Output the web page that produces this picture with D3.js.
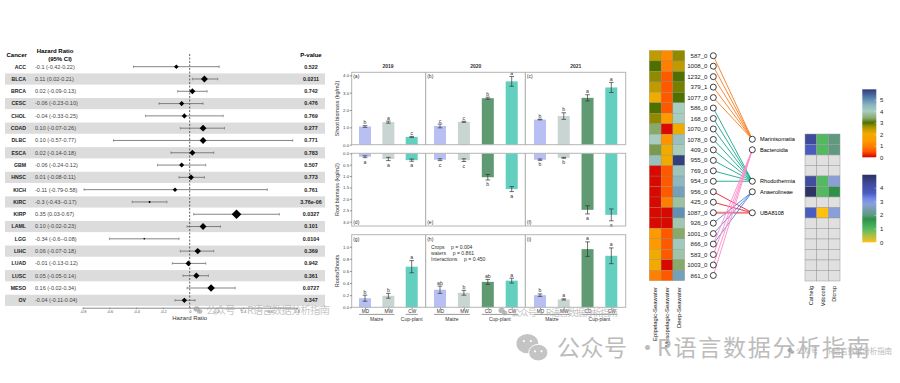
<!DOCTYPE html>
<html>
<head>
<meta charset="utf-8">
<script src="https://cdn.jsdelivr.net/npm/d3@7"></script>
<style>
body { margin: 0; background: #fff; }
svg { display: block; font-family: "Liberation Sans", Arial, sans-serif; }
</style>
</head>
<body>
<div id="chart"></div>
<script>
// forest plot data
var cancers = ['ACC','BLCA','BRCA','CESC','CHOL','COAD','DLBC','ESCA','GBM','HNSC','KICH','KIRC','KIRP','LAML','LGG','LIHC','LUAD','LUSC','MESO','OV'];
var hr = [-0.1,0.11,0.02,-0.06,-0.04,0.10,0.10,0.02,-0.06,0.01,-0.11,-0.3,0.35,0.10,-0.34,0.06,-0.01,0.05,0.16,-0.04];
var hrLow = [-0.42,0.02,-0.09,-0.23,-0.33,-0.07,-0.57,-0.14,-0.24,-0.08,-0.79,-0.43,0.03,-0.02,-0.6,-0.07,-0.13,-0.05,-0.02,-0.11];
var hrHigh = [0.22,0.21,0.13,0.10,0.25,0.26,0.77,0.18,0.12,0.11,0.58,-0.17,0.67,0.23,-0.08,0.18,0.12,0.14,0.34,0.04];
var hrText = ['-0.1 (-0.42-0.22)','0.11 (0.02-0.21)','0.02 (-0.09-0.13)','-0.06 (-0.23-0.10)','-0.04 (-0.33-0.25)','0.10 (-0.07-0.26)','0.10 (-0.57-0.77)','0.02 (-0.14-0.18)','-0.06 (-0.24-0.12)','0.01 (-0.08-0.11)','-0.11 (-0.79-0.58)','-0.3 (-0.43--0.17)','0.35 (0.03-0.67)','0.10 (-0.02-0.23)','-0.34 (-0.6--0.08)','0.06 (-0.07-0.18)','-0.01 (-0.13-0.12)','0.05 (-0.05-0.14)','0.16 (-0.02-0.34)','-0.04 (-0.11-0.04)'];
var pvals = ['0.522','0.0211','0.742','0.476','0.769','0.277','0.771','0.783','0.507','0.773','0.761','3.76e-06','0.0327','0.101','0.0104','0.369','0.942','0.361','0.0727','0.347'];
var hrTicks = [-0.8,-0.6,-0.4,-0.2,0,0.2,0.4,0.6,0.8];

// bar panels, one entry per year
var years = ['2019','2020','2021'];
var treatments = [['MD','MW','CW'],['MD','MW','CD','CW'],['MD','MW','CD','CW']];
var shootVals = [[1.05,1.30,0.45],[1.08,1.32,2.68,3.65],[1.45,1.65,2.70,3.30]];
var shootErr = [[0.05,0.06,0.03],[0.11,0.03,0.06,0.28],[0.02,0.19,0.18,0.29]];
var shootSig = [['b','a','c'],['c','c','b','a'],['b','b','a','a']];
var rootVals = [[0.15,0.25,0.30],[0.28,0.30,1.05,1.57],[0.28,0.20,2.48,2.70]];
var rootErr = [[0.04,0.07,0.05],[0.04,0.06,0.12,0.11],[0.03,0.02,0.18,0.26]];
var rootSig = [['a','a','a'],['c','c','b','a'],['b','b','a','a']];
var ratioVals = [[0.15,0.19,0.67],[0.29,0.24,0.42,0.44],[0.20,0.13,0.96,0.85]];
var ratioErr = [[0.05,0.04,0.10],[0.06,0.04,0.04,0.04],[0.02,0.01,0.12,0.13]];
var ratioSig = [['b','b','a'],['ab','b','ab','a'],['b','a','a','a']];
var panelTags = [['(a)','(b)','(c)'],['(d)','(e)','(f)'],['(g)','(h)','(i)']];
var stats = [['Crops','p = 0.004'],['waters','p = 0.861'],['Interactions','p = 0.450']];

// left heatmap + network
var asvs = ['587_0','1008_0','1232_0','379_1','1077_0','586_0','168_0','1070_0','1078_0','409_0','955_0','769_0','954_0','956_0','425_0','1087_0','926_0','1001_0','866_0','583_0','1003_0','861_0'];
var waterCols = ['Epipelagic-Seawater','Mesopelagic-Seawater','Deep-Seawater'];
var asvHeat = [
  [2.45,1.15,2.75],[3.0,1.0,2.45],[2.75,0.55,3.0],[2.45,0.55,2.85],[2.05,0.55,3.0],
  [3.0,0.55,4.0],[2.75,1.4,4.0],[3.4,0.05,2.05],[4.0,1.3,4.3],[3.3,2.05,4.0],
  [4.3,2.05,5.85],[0.05,0.55,4.2],[0.05,0.55,4.5],[0.05,0.55,4.8],[0.05,1.0,3.8],
  [0.05,0.05,5.0],[0.05,0.05,3.9],[1.4,0.55,3.4],[1.4,0.55,4.1],[2.05,0.55,3.85],
  [2.05,0.05,3.4],[1.0,0.55,4.8]
];
var taxa = ['Marinisomatia','Bacteroidia','','','Rhodothermia','Anaerolineae','','UBA8108','','','','','',''];
// index into taxa for each asv
var asvTaxon = [0,0,0,0,0,4,4,4,4,4,4,4,4,7,7,7,5,5,5,1,1,1];
var extraLinks = [[18,1]];
var taxonColors = {0:'#f9791c',1:'#ff8ac6',4:'#16a68c',5:'#5482de',7:'#f01c2c'};

// right heatmap, null = no value
var hostCols = ['Cathelg','Vdocotti','Dlcrsp'];
var hostHeat = [
  [4.3,1.0,2.0],[3.6,1.0,2.0],[null,null,null],[null,null,null],[4.2,1.0,2.8],[4.9,1.0,1.7],[null,null,null],
  [3.6,0,2.8],[null,null,null],[null,null,null],[null,null,null],[null,null,null],[null,null,null],[null,null,null]
];

// colour ramps of the two legends
var ramp1Stops = [0,0.5,1,1.4,2.05,2.45,2.75,3.0,3.4,4.0,4.5,5.0,5.9];
var ramp1Colors = ['#d40000','#ff5500','#ff8000','#ff9900','#f0aa00','#bf9a00','#8f8a00','#4d7000','#88a96b','#a6cdbf','#8fb7bf','#6090b8','#2f3a7a'];
var ramp2Stops = [0,0.5,1,1.7,2,2.8,3.2,3.6,4.3,4.9];
var ramp2Colors = ['#ffc010','#a5c04a','#52b960','#2e9148','#5f9a80','#8a9fd8','#6f88e8','#4a5cc0','#3f4a9a','#2d3364'];

var barColors = {MD:'#b7bff3',MW:'#c8d5d3',CD:'#5f9a73',CW:'#63cfbe'};
var groupOf = {MD:'Maize',MW:'Maize',CD:'Cup-plant',CW:'Cup-plant'};

var svg = d3.select('#chart').append('svg')
  .attr('width', 900)
  .attr('height', 383);

generate_forest();
generate_bars();
generate_network();
generate_watermarks();

function generate_forest(){
  var g = svg.append('g');
  var x = d3.scaleLinear().domain([-0.8,0.8]).range([82.7,296.7]);
  var y = d3.scalePoint().domain(cancers).range([66.7,300.3]);
  var size = d3.scaleLinear().domain([-0.34,0.35]).range([1,4.8]);

  g.selectAll('.band')
    .data(cancers.filter((d,i)=> i % 2 == 1))
    .join('rect')
    .attr('x', 5)
    .attr('width', 320)
    .attr('y', d=> y(d)-5.6)
    .attr('height', 11.2)
    .style('fill', '#dcdcdc');

  var head = [['Cancer',16.7,57],['Hazard Ratio',55,52.7],['(95% CI)',60,61],['P-value',311,57]];
  g.selectAll('.head')
    .data(head)
    .join('text')
    .attr('x', d=>d[1])
    .attr('y', d=>d[2])
    .attr('text-anchor','middle')
    .style('font-size','6px')
    .style('font-weight','bold')
    .text(d=>d[0]);

  g.selectAll('.name')
    .data(cancers)
    .join('text')
    .attr('x', (d)=> 26)
    .attr('y', d=> y(d)+1.9)
    .attr('text-anchor','end')
    .style('font-size','5.2px')
    .style('font-weight','bold')
    .style('fill','#222')
    .text(d=>d);

  g.selectAll('.hrtext')
    .data(hrText)
    .join('text')
    .attr('x', 35)
    .attr('y', (d,i)=> y(cancers[i])+1.9)
    .style('font-size','5.5px')
    .style('fill','#444')
    .text(d=>d);

  g.selectAll('.pval')
    .data(pvals)
    .join('text')
    .attr('x', 311)
    .attr('y', (d,i)=> y(cancers[i])+1.9)
    .attr('text-anchor','middle')
    .style('font-size','5.4px')
    .style('font-weight','bold')
    .style('fill','#222')
    .text(d=>d);

  // axis first, the dashed zero line goes on top
  var axis = g.append('g')
    .attr('transform','translate(0,307.7)')
    .call(d3.axisBottom(x).tickValues(hrTicks).tickSize(1.5).tickPadding(1).tickFormat(d=> d==0 ? '0' : d));
  axis.select('.domain').style('stroke','#888');
  axis.selectAll('line').style('stroke','#888');
  axis.selectAll('text').style('font-size','3.8px').style('fill','#555').style('font-family','inherit');

  g.append('line')
    .attr('x1', x(0)).attr('x2', x(0))
    .attr('y1', 54).attr('y2', 307.7)
    .style('stroke','#222')
    .style('stroke-width',0.7)
    .style('stroke-dasharray','2,1.5');

  g.append('text')
    .attr('x', x(0))
    .attr('y', 320)
    .attr('text-anchor','middle')
    .style('font-size','6px')
    .style('fill','#333')
    .text('Hazard Ratio');

  cancers.forEach(function(c,i){
    var cy = y(c);
    g.append('line')
      .attr('x1', x(hrLow[i])).attr('x2', x(hrHigh[i]))
      .attr('y1', cy).attr('y2', cy)
      .style('stroke','#666').style('stroke-width',0.8);
    [hrLow[i],hrHigh[i]].forEach(function(v){
      g.append('line')
        .attr('x1', x(v)).attr('x2', x(v))
        .attr('y1', cy-1.3).attr('y2', cy+1.3)
        .style('stroke','#666').style('stroke-width',0.6);
    });
    var r = size(hr[i]);
    g.append('path')
      .attr('d', d3.line()([[x(hr[i])-r,cy],[x(hr[i]),cy-r],[x(hr[i])+r,cy],[x(hr[i]),cy+r]])+'Z')
      .style('fill','#000');
  });
}

function generate_bars(){
  var g = svg.append('g');
  var panelX = [351.7,425.7,525.3,625.7];
  var rows = [
    {vals:shootVals, err:shootErr, sig:shootSig, top:72.3, bottom:144.7, y:d3.scaleLinear().domain([0,4]).range([144.7,75.3]), ticks:[0,1,2,3,4], down:false, title:'Shoot biomass (kg/m2)', fmt:'.1f'},
    {vals:rootVals, err:rootErr, sig:rootSig, top:153.3, bottom:226, y:d3.scaleLinear().domain([0,3]).range([153.3,221.7]), ticks:[0,0.5,1,1.5,2,2.5,3], down:true, title:'Root biomass (kg/m2)', fmt:'.1f'},
    {vals:ratioVals, err:ratioErr, sig:ratioSig, top:234.7, bottom:307.3, y:d3.scaleLinear().domain([0,1]).range([307.3,246.7]), ticks:[0,0.2,0.4,0.6,0.8,1], down:false, title:'Roots/Shoots', fmt:'.1f'}
  ];

  years.forEach(function(year,i){
    g.append('text')
      .attr('x', i==0 ? 388 : (i==1 ? 475.7 : 575.7))
      .attr('y', 67.5)
      .attr('text-anchor','middle')
      .style('font-size','5px')
      .style('font-weight','bold')
      .style('fill','#333')
      .text(year);
  });

  rows.forEach(function(row,r){
    var y = row.y;
    years.forEach(function(year,p){
      var x = d3.scalePoint()
        .domain(treatments[p])
        .range(p==0 ? [365,411.7] : (p==1 ? [440,511.7] : [540,611.3]));
      var w = 12;

      treatments[p].forEach(function(t,i){
        var v = row.vals[p][i], e = row.err[p][i], cx = x(t);
        var y0 = y(0), y1 = y(v);
        g.append('rect')
          .attr('x', cx-w/2)
          .attr('width', w)
          .attr('y', Math.min(y0,y1))
          .attr('height', Math.abs(y1-y0))
          .style('fill', barColors[t]);
        // error bar
        g.append('line')
          .attr('x1',cx).attr('x2',cx)
          .attr('y1',y(v-e)).attr('y2',y(v+e))
          .style('stroke','#333').style('stroke-width',0.7);
        [v-e,v+e].forEach(function(c){
          g.append('line')
            .attr('x1',cx-2.3).attr('x2',cx+2.3)
            .attr('y1',y(c)).attr('y2',y(c))
            .style('stroke','#333').style('stroke-width',0.7);
        });
        g.append('text')
          .attr('x',cx)
          .attr('y', row.down ? y(v+e)+6 : y(v+e)-1.5)
          .attr('text-anchor','middle')
          .style('font-size','5.2px')
          .style('fill','#333')
          .text(row.sig[p][i]);
      });

      g.append('text')
        .attr('x', panelX[p]+1.5)
        .attr('y', r==1 ? 224 : row.top+6)
        .style('font-size','5px')
        .style('fill','#333')
        .text(panelTags[r][p]);

      // treatment labels and group lines only under the last row
      if (r==2){
        var ax = g.append('g')
          .attr('transform','translate(0,'+row.bottom+')')
          .call(d3.axisBottom(x).tickSize(1.5).tickPadding(1));
        ax.select('.domain').remove();
        ax.selectAll('line').style('stroke','#777');
        ax.selectAll('text').style('font-size','4.8px').style('fill','#333').style('font-family','inherit');
        ['Maize','Cup-plant'].forEach(function(gr){
          var members = treatments[p].filter(t=> groupOf[t]==gr);
          var x0 = x(members[0])-6, x1 = x(members[members.length-1])+6;
          g.append('line')
            .attr('x1',x0).attr('x2',x1)
            .attr('y1',314.4).attr('y2',314.4)
            .style('stroke','#555').style('stroke-width',0.6);
          g.append('text')
            .attr('x',(x0+x1)/2)
            .attr('y',320.5)
            .attr('text-anchor','middle')
            .style('font-size','5px')
            .style('fill','#333')
            .text(gr);
        });
      }
    });

    // panel frame drawn over the bars
    g.append('rect')
      .attr('x',panelX[0]).attr('width',panelX[3]-panelX[0])
      .attr('y',row.top).attr('height',row.bottom-row.top)
      .style('fill','none').style('stroke','#b5b5b5').style('stroke-width',1);
    [panelX[1],panelX[2]].forEach(function(px){
      g.append('line')
        .attr('x1',px).attr('x2',px)
        .attr('y1',row.top).attr('y2',row.bottom)
        .style('stroke','#a5a5a5').style('stroke-width',1);
    });

    var ay = g.append('g')
      .attr('transform','translate('+panelX[0]+',0)')
      .call(d3.axisLeft(y).tickValues(row.ticks).tickSize(1.5).tickPadding(1).tickFormat(d3.format(row.fmt)));
    ay.select('.domain').remove();
    ay.selectAll('line').style('stroke','#777');
    ay.selectAll('text').style('font-size','4.4px').style('fill','#444').style('font-family','inherit');

    g.append('text')
      .attr('transform','translate(338.5,'+((row.top+row.bottom)/2)+')rotate(-90)')
      .attr('text-anchor','middle')
      .style('font-size','5.4px')
      .style('fill','#333')
      .text(row.title);
  });

  stats.forEach(function(s,i){
    g.append('text').attr('x',431).attr('y',248.8+i*6).style('font-size','5.1px').style('fill','#333').text(s[0]);
    g.append('text').attr('x',i==2 ? 464 : (i==1 ? 452.7 : 451)).attr('y',248.8+i*6).style('font-size','5.1px').style('fill','#333').text(s[1]);
  });
}

function generate_network(){
  var g = svg.append('g');
  var ramp1 = d3.scaleLinear().domain(ramp1Stops).range(ramp1Colors);
  var ramp2 = d3.scaleLinear().domain(ramp2Stops).range(ramp2Colors);

  // left heatmap
  var hx = d3.scaleBand().domain(waterCols).range([649.3,684.7]);
  var hy = d3.scaleBand().domain(asvs).range([50.5,280.7]);
  asvs.forEach(function(a,i){
    waterCols.forEach(function(c,j){
      g.append('rect')
        .attr('x',hx(c)).attr('y',hy(a))
        .attr('width',hx.bandwidth()).attr('height',hy.bandwidth())
        .style('fill',ramp1(asvHeat[i][j]))
        .style('stroke','#8a8a6a').style('stroke-width',0.3);
    });
  });
  waterCols.forEach(function(c){
    g.append('text')
      .attr('transform','translate('+(hx(c)+hx.bandwidth()/2+2)+',287)rotate(-90)')
      .attr('text-anchor','end')
      .style('font-size','5.9px')
      .style('fill','#111')
      .text(c);
  });

  // network links
  var nodeY = d=> hy(d)+hy.bandwidth()/2;
  var ty = d3.scaleBand().domain(d3.range(taxa.length)).range([134,281]);
  var taxonY = d=> ty(d)+ty.bandwidth()/2;
  var leftX = 713.3, rightX = 752.3;
  var linkList = asvTaxon.map((t,i)=>[i,t]).concat(extraLinks);
  g.selectAll('.link')
    .data(linkList)
    .join('line')
    .attr('x1',leftX).attr('y1',d=>nodeY(asvs[d[0]]))
    .attr('x2',rightX).attr('y2',d=>taxonY(d[1]))
    .style('stroke',d=> asvs[d[0]]=='1087_0' ? '#f08080' : taxonColors[d[1]])
    .style('stroke-width',d=> asvs[d[0]]=='1087_0' ? 2 : 0.9);

  g.selectAll('.asvnode')
    .data(asvs)
    .join('circle')
    .attr('cx',leftX).attr('cy',nodeY).attr('r',3)
    .style('fill','#fff').style('stroke','#111').style('stroke-width',0.8);
  g.selectAll('.asvlabel')
    .data(asvs)
    .join('text')
    .attr('x',707.5).attr('y',d=>nodeY(d)+2.1)
    .attr('text-anchor','end')
    .style('font-size','6.1px')
    .style('fill','#222')
    .text(d=>d);

  var named = d3.range(taxa.length).filter(i=> taxa[i]!='');
  g.selectAll('.taxnode')
    .data(named)
    .join('circle')
    .attr('cx',rightX).attr('cy',taxonY).attr('r',3)
    .style('fill','#fff').style('stroke','#111').style('stroke-width',0.8);
  g.selectAll('.taxlabel')
    .data(named)
    .join('text')
    .attr('x',760).attr('y',d=>taxonY(d)+2)
    .style('font-size','5.6px')
    .style('fill','#000')
    .text(d=>taxa[d]);

  // right heatmap
  var sx = d3.scaleBand().domain(hostCols).range([805,840]);
  hostHeat.forEach(function(row,i){
    hostCols.forEach(function(c,j){
      var v = row[j];
      g.append('rect')
        .attr('x',sx(c)).attr('y',ty(i))
        .attr('width',sx.bandwidth()).attr('height',ty.bandwidth())
        .style('fill',v===null ? '#e0e0e0' : ramp2(v))
        .style('stroke','#9a9a9a').style('stroke-width',0.5);
    });
  });
  hostCols.forEach(function(c){
    g.append('text')
      .attr('transform','translate('+(sx(c)+sx.bandwidth()/2+2)+',286)rotate(-90)')
      .attr('text-anchor','end')
      .style('font-size','5.6px')
      .style('fill','#222')
      .text(c);
  });

  // colour bars
  add_colorbar('ramp1', ramp1Stops, ramp1, d3.scaleLinear().domain([0,5]).range([157.3,99.7]), 5.9, [0,1,2,3,4,5]);
  add_colorbar('ramp2', ramp2Stops, ramp2, d3.scaleLinear().domain([0,4]).range([242.3,187.7]), 4.95, [0,1,2,3,4]);
}

function add_colorbar(id, stops, ramp, y, maxVal, ticks){
  var defs = svg.append('defs');
  var grad = defs.append('linearGradient')
    .attr('id',id)
    .attr('x1',0).attr('x2',0).attr('y1',1).attr('y2',0);
  stops.forEach(function(s){
    grad.append('stop')
      .attr('offset',(s/maxVal*100)+'%')
      .attr('stop-color',ramp(s));
  });
  svg.append('rect')
    .attr('x',862.3).attr('width',14)
    .attr('y',y(maxVal)).attr('height',y(0)-y(maxVal))
    .style('fill','url(#'+id+')');
  var ax = svg.append('g')
    .attr('transform','translate(876.3,0)')
    .call(d3.axisLeft(y).tickValues(ticks).tickSize(2).tickFormat(''));
  ax.select('.domain').remove();
  ax.selectAll('line').style('stroke','#fff').style('stroke-width',0.5).style('opacity',0.7);
  var lb = svg.append('g')
    .attr('transform','translate(880,0)')
    .call(d3.axisRight(y).tickValues(ticks).tickSize(0).tickPadding(0).tickFormat(d3.format('d')));
  lb.select('.domain').remove();
  lb.selectAll('text').style('font-size','6px').style('fill','#222').style('font-family','inherit');
}

function wechat_icon(g, cx, cy, s, color){
  g.append('ellipse').attr('cx',cx-s*0.16).attr('cy',cy-s*0.12).attr('rx',s*0.34).attr('ry',s*0.3).style('fill',color);
  g.append('ellipse').attr('cx',cx+s*0.18).attr('cy',cy+s*0.16).attr('rx',s*0.3).attr('ry',s*0.26).style('fill',color).style('stroke','#fff').style('stroke-width',s*0.03);
  // eyes
  [[-0.27,-0.2],[-0.05,-0.2],[0.08,0.12],[0.28,0.12]].forEach(function(e){
    g.append('circle').attr('cx',cx+s*e[0]).attr('cy',cy+s*e[1]).attr('r',s*0.035).style('fill','#fff');
  });
}

function generate_watermarks(){
  var g = svg.append('g').style('font-family','"Noto Sans CJK SC", sans-serif');
  // big one at the bottom
  wechat_icon(g, 532.5, 347.5, 32, '#c4c4c4');
  g.append('text').attr('x',557).attr('y',355.5).attr('textLength',70)
    .style('font-size','23px').style('fill','#bcbcbc').text('公众号');
  g.append('text').attr('x',636).attr('y',355.5)
    .style('font-size','23px').style('fill','#bcbcbc').text('·');
  g.append('text').attr('x',657).attr('y',355.5).attr('textLength',213)
    .style('font-size','23px').style('fill','#bcbcbc').text('R语言数据分析指南');
  // small repeats
  wechat_icon(g, 198, 310, 9, 'rgba(150,150,150,0.7)');
  g.append('text')
    .attr('x',206).attr('y',314)
    .attr('textLength',124)
    .style('font-size','10.5px')
    .style('fill','rgba(170,170,170,0.7)')
    .text('公众号 · R语言数据分析指南');
  wechat_icon(g, 503, 311.5, 9, 'rgba(150,150,150,0.7)');
  g.append('text')
    .attr('x',511).attr('y',315.5)
    .attr('textLength',107)
    .style('font-size','9.5px')
    .style('fill','rgba(170,170,170,0.7)')
    .text('公众号 · R语言数据分析指南');
  wechat_icon(g, 791, 351, 7, 'rgba(150,150,150,0.8)');
  g.append('text')
    .attr('x',796).attr('y',354)
    .attr('textLength',96)
    .style('font-size','7.5px')
    .style('fill','rgba(170,170,170,0.85)')
    .text('公众号 · R语言数据分析指南');
}
</script>
</body>
</html>
